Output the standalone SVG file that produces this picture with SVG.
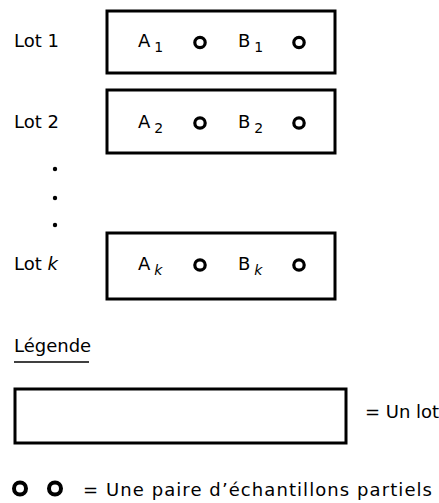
<svg xmlns="http://www.w3.org/2000/svg" width="439" height="503" viewBox="0 0 439 503">
<style>
text{font-family:"DejaVu Sans","Liberation Sans",sans-serif;font-size:18px;fill:#000}
.sub{font-size:14px}
.box{fill:none;stroke:#000;stroke-width:3}
.c{fill:none;stroke:#000;stroke-width:3.2}
.cl{fill:none;stroke:#000;stroke-width:4}
</style>
<rect width="439" height="503" fill="#fff"/>
<g id="lot1">
<text x="14" y="47">Lot 1</text>
<rect class="box" x="107" y="11" width="228" height="62"/>
<text x="138" y="47">A<tspan class="sub" dx="4" dy="5">1</tspan></text>
<circle class="c" cx="200" cy="42.5" r="5.2"/>
<text x="238" y="47">B<tspan class="sub" dx="4" dy="5">1</tspan></text>
<circle class="c" cx="299" cy="42.5" r="5.2"/>
</g>
<g id="lot2">
<text x="14" y="128">Lot 2</text>
<rect class="box" x="107" y="90" width="228" height="63"/>
<text x="138" y="128">A<tspan class="sub" dx="4" dy="5">2</tspan></text>
<circle class="c" cx="200" cy="123" r="5.2"/>
<text x="238" y="128">B<tspan class="sub" dx="4" dy="5">2</tspan></text>
<circle class="c" cx="299" cy="123" r="5.2"/>
</g>
<g id="dots">
<circle cx="55" cy="169" r="2.2"/>
<circle cx="55" cy="198" r="2.2"/>
<circle cx="55" cy="225" r="2.2"/>
</g>
<g id="lotk">
<text x="14" y="270">Lot <tspan font-style="italic">k</tspan></text>
<rect class="box" x="107" y="233" width="228" height="66"/>
<text x="138" y="270">A<tspan class="sub" font-style="italic" dx="4" dy="5">k</tspan></text>
<circle class="c" cx="200" cy="265" r="5.2"/>
<text x="238" y="270">B<tspan class="sub" font-style="italic" dx="4" dy="5">k</tspan></text>
<circle class="c" cx="299" cy="265" r="5.2"/>
</g>
<g id="legend">
<text x="14" y="352">Légende</text>
<line x1="14" y1="362" x2="89" y2="362" stroke="#000" stroke-width="1.5"/>
</g>
<g id="legend-lot">
<rect class="box" x="15" y="389" width="331" height="54"/>
<text x="365" y="418">= Un lot</text>
</g>
<g id="legend-pair">
<circle class="cl" cx="20" cy="488.5" r="6"/>
<circle class="cl" cx="55" cy="488.5" r="6"/>
<text x="83" y="496" textLength="349" lengthAdjust="spacing">= Une paire d’échantillons partiels</text>
</g>
<g id="connectors"/>
</svg>
